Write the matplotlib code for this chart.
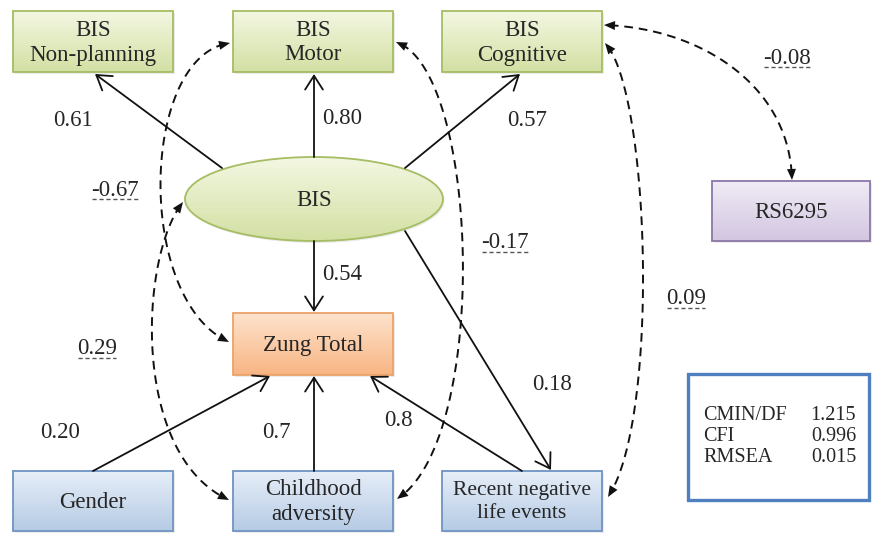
import numpy as np
import matplotlib
matplotlib.use("Agg")
import matplotlib.pyplot as plt
from matplotlib import font_manager as fm
from matplotlib.patches import Rectangle, Ellipse, FancyArrowPatch, Polygon
from matplotlib.colors import to_rgb

# ---------------- data ----------------
node_labels = ["BIS\nNon-planning", "BIS\nMotor", "BIS\nCognitive", "RS6295",
               "BIS", "Zung Total", "Gender", "Childhood\nadversity",
               "Recent negative\nlife events"]
path_from = ["BIS", "BIS", "BIS", "BIS", "BIS", "Gender", "Childhood\nadversity",
             "Recent negative\nlife events"]
path_to = ["BIS\nNon-planning", "BIS\nMotor", "BIS\nCognitive", "Zung Total",
           "Recent negative\nlife events", "Zung Total", "Zung Total", "Zung Total"]
path_coef = ["0.61", "0.80", "0.57", "0.54", "0.18", "0.20", "0.7", "0.8"]
cov_a = ["BIS\nMotor", "BIS", "BIS\nMotor", "BIS\nCognitive", "BIS\nCognitive"]
cov_b = ["Zung Total", "Childhood\nadversity", "Childhood\nadversity",
         "Recent negative\nlife events", "RS6295"]
cov_coef = ["-0.67", "0.29", "-0.17", "0.09", "-0.08"]
fit_names = ["CMIN/DF", "CFI", "RMSEA"]
fit_values = ["1.215", "0.996", "0.015"]

# ---------------- layout (pixel coordinates) ----------------
W, H = 873, 534
box = {  # x0, y0, x1, y1
    "BIS\nNon-planning": (13, 11, 173, 72),
    "BIS\nMotor": (233, 11, 393, 72),
    "BIS\nCognitive": (442, 11, 602, 72),
    "RS6295": (712, 181, 870, 241),
    "Zung Total": (233, 313, 393, 375),
    "Gender": (13, 471, 173, 531),
    "Childhood\nadversity": (233, 471, 393, 531),
    "Recent negative\nlife events": (442, 471, 602, 531),
}
ellipse = {"BIS": (314, 199, 258, 84)}
node_style = {
    "BIS\nNon-planning": "green", "BIS\nMotor": "green", "BIS\nCognitive": "green",
    "BIS": "green", "RS6295": "purple", "Zung Total": "orange",
    "Gender": "blue", "Childhood\nadversity": "blue",
    "Recent negative\nlife events": "blue",
}
palette = {  # top, bottom, edge
    "green": ("#f3f7e2", "#d3e0a3", "#a5bd63"),
    "orange": ("#fde3cd", "#f8b583", "#eca26a"),
    "purple": ("#f0ebf5", "#d3c6e1", "#8a77a8"),
    "blue": ("#e6eef8", "#b6cbe5", "#6e93c2"),
}
path_pts = [((222, 168), (95, 74)), ((314, 157), (314, 74)),
            ((405, 168), (520, 74)), ((314, 241), (314, 312)),
            ((405, 231), (551, 470)), ((93, 471), (270, 376)),
            ((314, 471), (314, 376)), ((522, 471), (370, 376))]
path_lbl = [(73, 120), (342, 118), (527, 121), (342, 275), (552, 384),
            (60, 433), (276, 433), (398, 421)]
cov_ctrl = [
    [(230, 43), (140, 55), (135, 300), (229, 342)],
    [(183, 202), (140, 255), (130, 455), (229, 500)],
    [(396, 42), (480, 70), (490, 440), (397, 499)],
    [(605, 43), (650, 90), (660, 420), (608, 497)],
    [(604, 25), (700, 28), (790, 85), (792, 180)],
]
cov_lbl = [(115, 190), (97, 349), (505, 243), (686, 299), (787, 58)]

# pick a Times-like serif font that is really installed
_names = {f.name for f in fm.fontManager.ttflist}
SERIF_FONT = None
for cand in ["Liberation Serif", "Times New Roman", "Nimbus Roman", "DejaVu Serif",
             "Noto Serif"]:
    if cand in _names:
        SERIF_FONT = cand
        break
if SERIF_FONT is None:
    serifs = sorted(n for n in _names if "Serif" in n and "Sans" not in n)
    SERIF_FONT = serifs[0] if serifs else "serif"
plt.rcParams["font.family"] = "serif"
plt.rcParams["font.serif"] = [SERIF_FONT, "DejaVu Serif"]
FP = dict(fontfamily="serif")
TXT = "#262626"

fig = plt.figure(figsize=(W / 100, H / 100), dpi=100)
ax = fig.add_axes([0, 0, 1, 1])
ax.set_xlim(0, W)
ax.set_ylim(H, 0)
ax.axis("off")


def grad(c_top, c_bot, n=64):
    t = np.linspace(0, 1, n)[:, None]
    a = np.array(to_rgb(c_top))[None, :]
    b = np.array(to_rgb(c_bot))[None, :]
    g = a * (1 - t) + b * t
    return g[:, None, :].repeat(2, axis=1)


for name in node_labels:
    top, bot, edge = palette[node_style[name]]
    fs = 15.5 if name.startswith("Recent") else 16.5
    if name in box:
        x0, y0, x1, y1 = box[name]
        ax.add_patch(Rectangle((x0 + 1.5, y0 + 2), x1 - x0, y1 - y0,
                               facecolor="#000000", alpha=0.08, edgecolor="none", zorder=1))
        p = Rectangle((x0, y0), x1 - x0, y1 - y0, facecolor="none",
                      edgecolor=edge, lw=1.3, zorder=3)
        ax.add_patch(p)
        im = ax.imshow(grad(top, bot), extent=(x0, x1, y1, y0), aspect="auto",
                       zorder=2, interpolation="bilinear")
        im.set_clip_path(p)
        cx, cy = (x0 + x1) / 2, (y0 + y1) / 2
    else:
        cx, cy, w, h = ellipse[name]
        ax.add_patch(Ellipse((cx + 1.5, cy + 2), w, h, facecolor="#000000",
                             alpha=0.08, edgecolor="none", zorder=1))
        p = Ellipse((cx, cy), w, h, facecolor="none", edgecolor=edge, lw=1.3, zorder=3)
        ax.add_patch(p)
        im = ax.imshow(grad(top, bot), extent=(cx - w / 2, cx + w / 2, cy + h / 2, cy - h / 2),
                       aspect="auto", zorder=2, interpolation="bilinear")
        im.set_clip_path(p)
    ax.text(cx, cy + 1, name, ha="center", va="center", fontsize=fs,
            color=TXT, linespacing=1.25, zorder=5, **FP)

# solid paths
for (s, e), lbl, lp in zip(path_pts, path_coef, path_lbl):
    ax.add_patch(FancyArrowPatch(s, e, arrowstyle="->,head_length=0.5,head_width=0.32",
                                 mutation_scale=20, lw=1.3, color="#111111",
                                 shrinkA=0, shrinkB=0, zorder=6))
    ax.text(lp[0], lp[1], lbl, ha="center", va="center", fontsize=16.5,
            color=TXT, zorder=7, **FP)


def bez(P, n=200):
    P = np.array(P, float)
    t = np.linspace(0, 1, n)[:, None]
    return ((1 - t) ** 3 * P[0] + 3 * (1 - t) ** 2 * t * P[1]
            + 3 * (1 - t) * t ** 2 * P[2] + t ** 3 * P[3])


def head(tip, frm, L=11, Wd=4.5):
    d = np.array(tip) - np.array(frm)
    d = d / np.hypot(*d)
    nrm = np.array([-d[1], d[0]])
    base = np.array(tip) - d * L
    ax.add_patch(Polygon([tip, base + nrm * Wd, base - nrm * Wd], closed=True,
                         facecolor="#111111", edgecolor="none", zorder=6))


cov_texts = []
for P, lbl, lp in zip(cov_ctrl, cov_coef, cov_lbl):
    pts = bez(P)
    head(pts[0], pts[6])
    head(pts[-1], pts[-7])
    ax.plot(pts[4:-4, 0], pts[4:-4, 1], color="#111111", lw=1.4,
            ls=(0, (4.5, 3)), zorder=5)
    cov_texts.append(ax.text(lp[0], lp[1], lbl, ha="center", va="center",
                             fontsize=16.5, color=TXT, zorder=7, **FP))

fig.canvas.draw()
r = fig.canvas.get_renderer()
inv = ax.transData.inverted()
for t, lp in zip(cov_texts, cov_lbl):
    bb = t.get_window_extent(r)
    (xa, _), (xb, _) = inv.transform([(bb.x0, bb.y0), (bb.x1, bb.y0)])
    ax.plot([xa + 1, xb - 1], [lp[1] + 9, lp[1] + 9], color="#555555", lw=1.0,
            ls=(0, (3, 2)), zorder=7)

# fit box
ax.add_patch(Rectangle((688, 374), 181, 126, facecolor="white", edgecolor="#4f7fbf",
                       lw=2.4, zorder=4))
for i, (n_, v_) in enumerate(zip(fit_names, fit_values)):
    y = 415 + i * 21.5
    ax.text(703, y, n_, ha="left", va="center", fontsize=14.5,
            color=TXT, zorder=7, **FP)
    ax.text(856, y, v_, ha="right", va="center", fontsize=14.5,
            color=TXT, zorder=7, **FP)

fig.savefig("out.png", dpi=100)
